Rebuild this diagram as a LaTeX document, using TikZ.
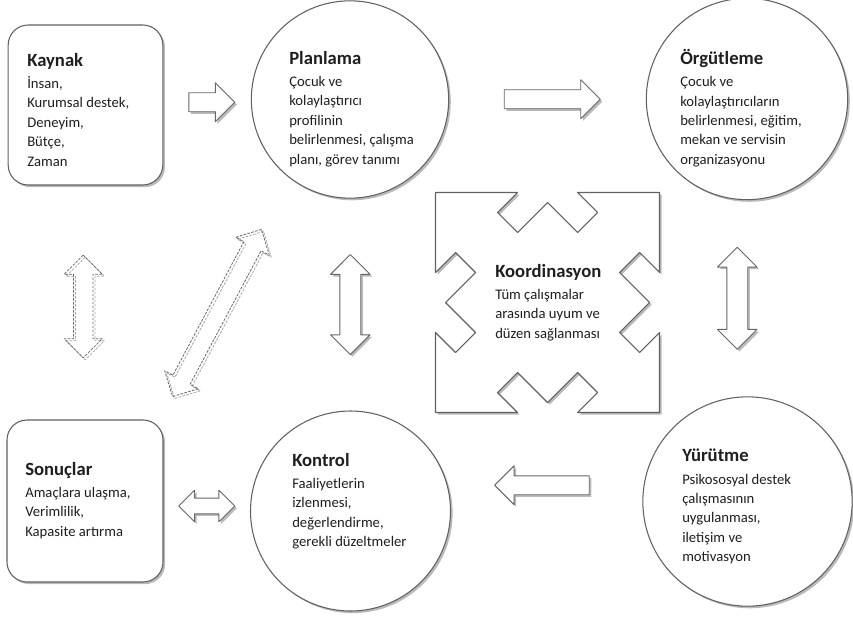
\documentclass[tikz,border=0pt]{standalone}
\usepackage{fontspec}
\setmainfont{Carlito}
\usetikzlibrary{calc,shapes.arrows,shadows}
\newcommand{\bsl}[1]{{\fontsize{14}{16}\selectfont\bfseries #1}}
\tikzset{
  golge/.style={drop shadow={shadow xshift=1.6pt,shadow yshift=-1.6pt,fill=black!45,opacity=.6}},
  kutu/.style={rectangle,draw=black!62,line width=.8pt,fill=white,rounded corners=15pt,golge},
  daire/.style={circle,draw=black!62,line width=.8pt,fill=white,inner sep=0pt,golge},
  yazi/.style={anchor=north west,align=left,inner sep=0pt,text=black!88},
  blok/.style={single arrow,draw=black!60,line width=.7pt,fill=white,inner sep=0pt,inner ysep=6.75pt,
    single arrow head extend=7.5pt,golge},
  ciftblok/.style={double arrow,draw=black!60,line width=.7pt,fill=white,inner sep=0pt,inner ysep=7.5pt,
    double arrow head extend=7pt,golge},
  kesik/.style={double arrow,draw=black!60,line width=.6pt,dash pattern=on 2pt off 1pt,inner sep=0pt,inner ysep=7pt,
    double arrow head extend=7pt,
    general shadow={draw=black!35,line width=.6pt,dash pattern=on 2pt off 1pt,shadow xshift=1.5pt,shadow yshift=-1.5pt}}
}

\begin{document}
\begin{tikzpicture}[x=0.75pt,y=-0.75pt,line join=round,font=\fontsize{11}{14.6}\selectfont]
\useasboundingbox (0,0) rectangle (853,617);
% --- kutular ve daireler
\node[kutu,minimum width=116pt,minimum height=120pt] (kaynak) at (85.5,105) {};
\node[kutu,minimum width=117pt,minimum height=121.5pt] (sonuclar) at (85,501) {};
\node[daire,minimum size=148pt] (planlama) at (350,99.5) {};
\node[daire,minimum size=151pt] (orgutleme) at (747,99) {};
\node[daire,minimum size=150pt] (kontrol) at (350.5,511) {};
\node[daire,minimum size=157pt] (yurutme) at (747.5,501.5) {};
% --- koordinasyon: dort yanda ok oyuklari
\begin{scope}[shift={(547.5,302.5)}]
\draw[draw=black!62,line width=.8pt,fill=white,golge]
  (-112,-110) -- (-30,-110) -- (-50,-90) -- (-30,-70) -- (0,-100) -- (30,-70) -- (50,-90) -- (30,-110) -- (112,-110)
  -- (112,-30) -- (92,-50) -- (72,-30) -- (102,0) -- (72,30) -- (92,50) -- (112,30) -- (112,110)
  -- (30,110) -- (50,90) -- (30,70) -- (0,100) -- (-30,70) -- (-50,90) -- (-30,110) -- (-112,110)
  -- (-112,30) -- (-92,50) -- (-72,30) -- (-102,0) -- (-72,-30) -- (-92,-50) -- (-112,-30) -- cycle;
\end{scope}
% --- yazilar
\node[yazi] (kaynak-y) at (27,53) {\bsl{Kaynak}\\[2pt] İnsan,\\ Kurumsal destek,\\ Deneyim,\\ Bütçe,\\ Zaman};
\node[yazi] (planlama-y) at (289,51) {\bsl{Planlama}\\[2pt] Çocuk ve\\ kolaylaştırıcı\\ profilinin\\ belirlenmesi, çalışma\\ planı, görev tanımı};
\node[yazi] (orgutleme-y) at (680,49) {\bsl{Örgütleme}\\[2pt] Çocuk ve\\ kolaylaştırıcıların\\ belirlenmesi, eğitim,\\ mekan ve servisin\\ organizasyonu};
\node[yazi] (koord-y) at (495,264) {\bsl{Koordinasyon}\\[2pt] Tüm çalışmalar\\ arasında uyum ve\\ düzen sağlanması};
\node[yazi] (sonuclar-y) at (25,462) {\bsl{Sonuçlar}\\[2pt] Amaçlara ulaşma,\\ Verimlilik,\\ Kapasite artırma};
\node[yazi] (kontrol-y) at (292,453) {\bsl{Kontrol}\\[2pt] Faaliyetlerin\\ izlenmesi,\\ değerlendirme,\\ gerekli düzeltmeler};
\node[yazi] (yurutme-y) at (682,449) {\bsl{Yürütme}\\[2pt] Psikososyal destek\\ çalışmasının\\ uygulanması,\\ iletişim ve\\ motivasyon};
% --- blok oklar
\node[blok,minimum height=34.5pt] (ok1) at ($(kaynak.east)!.5!(planlama.west)$) {};
\node[blok,minimum height=72pt] (ok2) at ($(planlama.east)!.5!(orgutleme.west)$) {};
\node[blok,minimum height=71pt,rotate=180] (ok3) at ($(kontrol.east)!.5!(yurutme.west)+(0,-21)$) {};
\node[ciftblok,minimum height=42pt,inner ysep=5.5pt,double arrow head extend=6pt] (ok4) at ($(sonuclar.east)!.5!(kontrol.west)$) {};
\node[ciftblok,minimum height=75pt,rotate=90] (ok5) at ($(planlama.south)!.5!(kontrol.north)$) {};
\node[ciftblok,minimum height=76.5pt,rotate=90] (ok6) at ($(orgutleme.south)!.5!(yurutme.north)+(-10,0)$) {};
% --- kesik cizgili oklar
\node[kesik,minimum height=77pt,rotate=90] (ok7) at ($(kaynak.south)!.5!(sonuclar.north)+(-2,4)$) {};
\node[kesik,minimum height=142pt,rotate=62] (ok8) at (217,313) {};
\end{tikzpicture}
\end{document}
